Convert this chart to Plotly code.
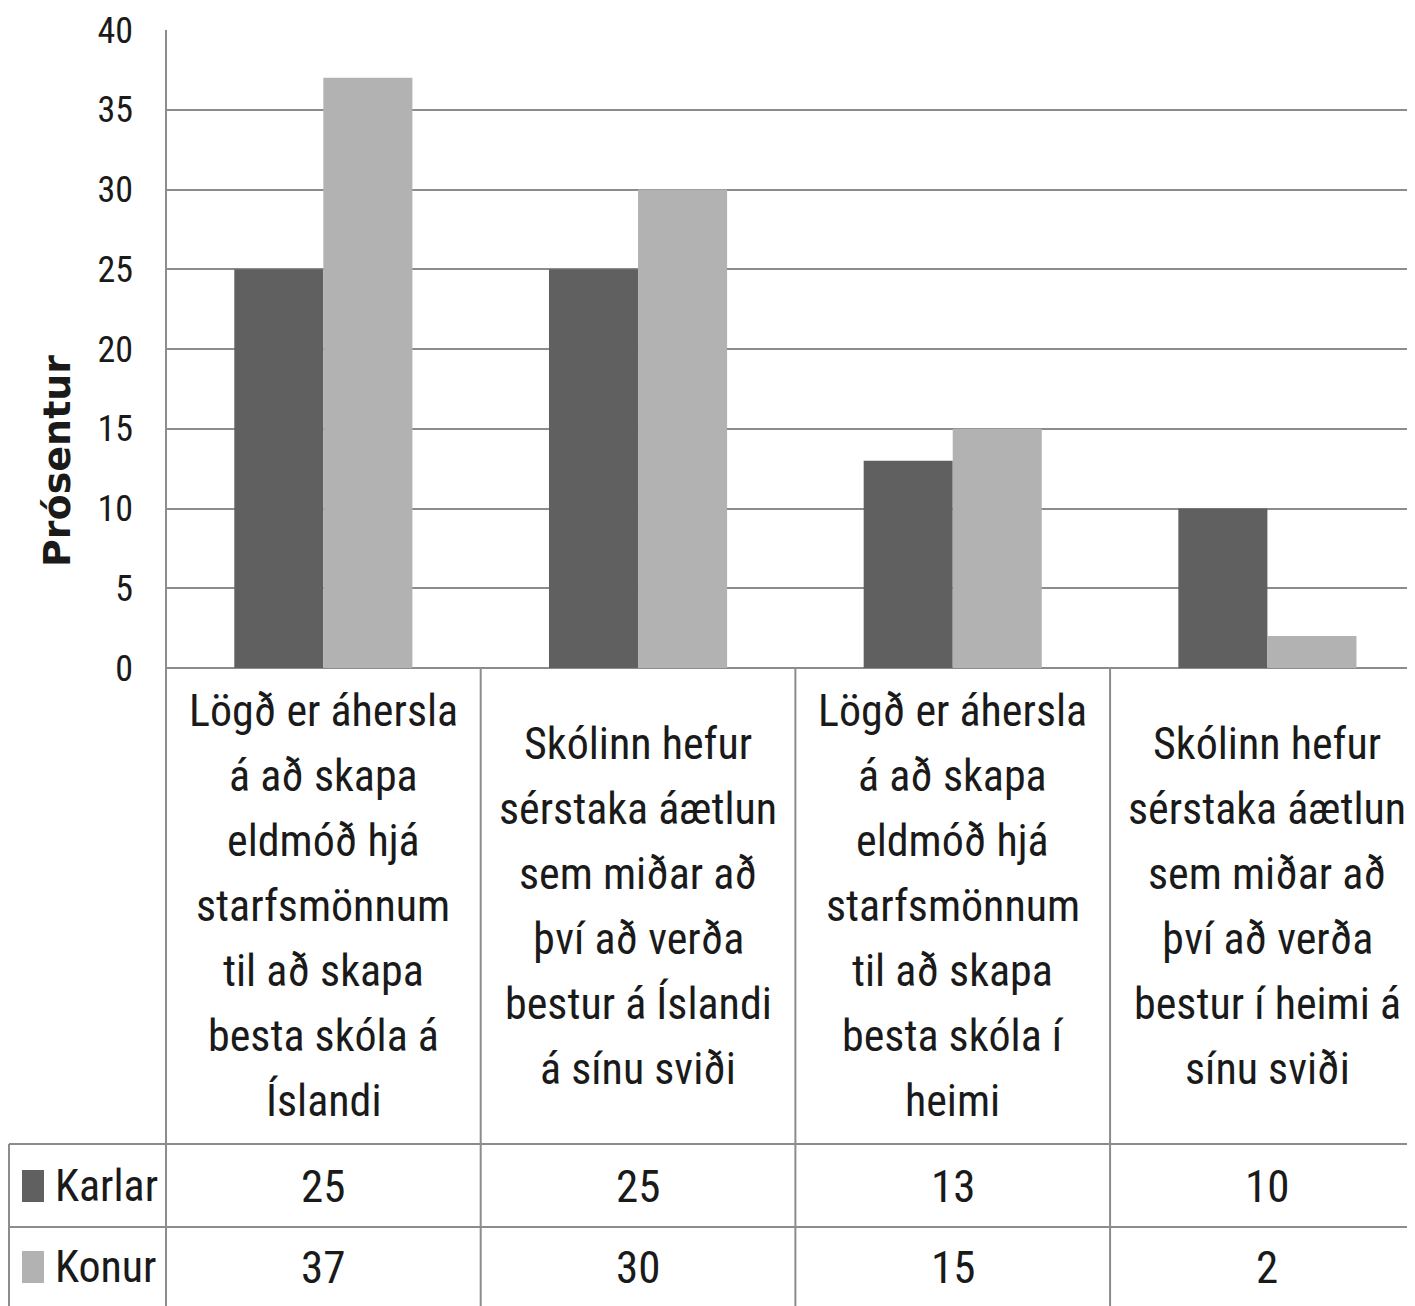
import plotly.graph_objects as go

categories = [
    ["Lögð er áhersla", "á að skapa", "eldmóð hjá", "starfsmönnum", "til að skapa", "besta skóla á", "Íslandi"],
    ["Skólinn hefur", "sérstaka áætlun", "sem miðar að", "því að verða", "bestur á Íslandi", "á sínu sviði"],
    ["Lögð er áhersla", "á að skapa", "eldmóð hjá", "starfsmönnum", "til að skapa", "besta skóla í", "heimi"],
    ["Skólinn hefur", "sérstaka áætlun", "sem miðar að", "því að verða", "bestur í heimi á", "sínu sviði"],
]
series_names = ["Karlar", "Konur"]
karlar = [25, 25, 13, 10]
konur = [37, 30, 15, 2]
colors = ["#606060", "#b2b2b2"]

# page body has an 8px margin, so the figure is drawn 8px in from the corner
OFF = 8
W, H = 1415 - OFF, 1306 - OFF
L, T = 166 - OFF, 30 - OFF
B = H - (668 - OFF)
PH = H - T - B
FONT = "Liberation Sans Narrow, Roboto Condensed, Arial Narrow, sans-serif"
TXT = "#1a1a1a"
GRID = "#8c8c8c"


def py(p):
    # screen pixel row -> paper y
    return (H - B - (p - OFF)) / PH


def px(p):
    return (p - OFF - L) / (W - L)


xs = list(range(len(categories)))
fig = go.Figure()
for name, vals, c in zip(series_names, [karlar, konur], colors):
    fig.add_trace(go.Bar(x=xs, y=vals, name=name, marker=dict(color=c, line=dict(width=0))))

shapes = []
# left axis line running down into the table
shapes.append(dict(type="line", xref="paper", yref="paper", x0=0, x1=0, y0=1, y1=py(1320),
                   line=dict(color=GRID, width=2)))
# column separators of the data table
for i in range(len(categories) - 1):
    shapes.append(dict(type="line", xref="x", yref="paper", x0=i + 0.5, x1=i + 0.5,
                       y0=0, y1=py(1320), line=dict(color=GRID, width=2)))
for row_y in [1144, 1227]:
    shapes.append(dict(type="line", xref="paper", yref="paper", x0=px(9), x1=1,
                       y0=py(row_y), y1=py(row_y), line=dict(color=GRID, width=2)))
shapes.append(dict(type="line", xref="paper", yref="paper", x0=px(9), x1=px(9),
                   y0=py(1144), y1=py(1320), line=dict(color=GRID, width=2)))

annotations = []
LINE_H = 65
for i, lines in enumerate(categories):
    n = len(lines)
    for k, line in enumerate(lines):
        yc = 906 + (k - (n - 1) / 2) * LINE_H
        annotations.append(dict(x=i, y=py(yc), xref="x", yref="paper", text=line, showarrow=False,
                                xanchor="center", yanchor="middle",
                                font=dict(family=FONT, size=44, color=TXT)))

row_centers = [1186, 1267]
for name, vals, c, rc in zip(series_names, [karlar, konur], colors, row_centers):
    shapes.append(dict(type="rect", xref="paper", yref="paper", x0=px(22), x1=px(44),
                       y0=py(rc - 16), y1=py(rc + 16), fillcolor=c, line=dict(width=0)))
    annotations.append(dict(x=px(53), y=py(rc), xref="paper", yref="paper", text=name,
                            showarrow=False, xanchor="left", yanchor="middle",
                            font=dict(family=FONT, size=44, color=TXT)))
    for i, v in enumerate(vals):
        annotations.append(dict(x=i, y=py(rc), xref="x", yref="paper", text=str(v),
                                showarrow=False, xanchor="center", yanchor="middle",
                                font=dict(family=FONT, size=45, color=TXT)))

annotations.append(dict(x=px(57), y=py(461), xref="paper", yref="paper", text="<b>Prósentur</b>",
                        textangle=-90, showarrow=False, xanchor="center", yanchor="middle",
                        font=dict(family="DejaVu Sans", size=38, color=TXT)))

fig.update_layout(
    width=W, height=H,
    margin=dict(l=L, r=0, t=T, b=B, pad=0),
    paper_bgcolor="white", plot_bgcolor="white",
    barmode="group", bargap=0.434, bargroupgap=0,
    showlegend=False,
    shapes=shapes, annotations=annotations,
    xaxis=dict(range=[-0.5, 3.469], showticklabels=False, showgrid=False, zeroline=False,
               ticks="", fixedrange=True),
    yaxis=dict(range=[0, 40], dtick=5, showgrid=True, gridcolor=GRID, gridwidth=2,
               zeroline=True, zerolinecolor=GRID, zerolinewidth=2, ticks="",
               tickfont=dict(family=FONT, size=36, color=TXT), ticklabelstandoff=32,
               fixedrange=True),
)

fig.write_html("out.html")
